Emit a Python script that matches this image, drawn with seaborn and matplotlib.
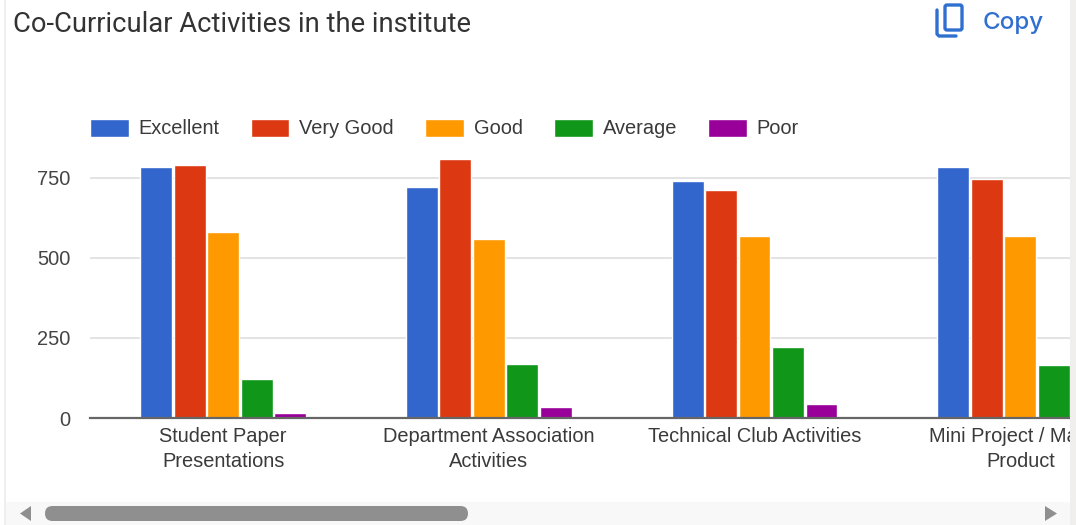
import pandas as pd
import seaborn as sns
import matplotlib.pyplot as plt
from matplotlib.patches import FancyBboxPatch, Polygon, Rectangle

activities = ['Student Paper\nPresentations', 'Department Association\nActivities',
              'Technical Club Activities', 'Mini Project / Major /\nProduct']
ratings = ['Excellent', 'Very Good', 'Good', 'Average', 'Poor']
colors = ['#3366cc', '#dc3912', '#ff9900', '#109618', '#990099']

excellent = [783, 721, 741, 783]
very_good = [790, 808, 711, 745]
good = [580, 558, 568, 568]
average = [122, 168, 222, 165]
poor = [15, 35, 45, 30]
yticks = [0, 250, 500, 750]

df = pd.DataFrame({'activity': activities, 'Excellent': excellent, 'Very Good': very_good,
                   'Good': good, 'Average': average, 'Poor': poor})
df = df.melt(id_vars='activity', var_name='rating', value_name='count')

W, H = 1076, 525
sns.set_theme(style='white')
plt.rcParams['font.family'] = ['Liberation Sans', 'DejaVu Sans']

fig = plt.figure(figsize=(W / 100, H / 100), dpi=100)
ax = fig.add_axes([90 / W, 1 - 418 / H, (1070 - 90) / W, (418 - 150) / H])

sns.barplot(data=df, x='activity', y='count', hue='rating', hue_order=ratings,
            palette=colors, saturation=1, width=0.63, gap=0.05, ax=ax)

# Chart limits taken from the pixel positions of the groups and gridlines
ax.set_xlim(-0.501, 3.187)
ax.set_ylim(0, 837)
ax.set_yticks(yticks)
ax.set_xlabel('')
ax.set_ylabel('')
ax.yaxis.grid(True, color='#dedede', lw=1.2)
ax.set_axisbelow(True)
sns.despine(ax=ax, left=True, top=True, right=True)
ax.spines['bottom'].set_color('#666666')
ax.spines['bottom'].set_linewidth(1.6)
ax.tick_params(axis='x', length=0, pad=6.5, labelsize=14.4, labelcolor='#3a3a3a')
ax.tick_params(axis='y', length=0, pad=14, labelsize=14.4, labelcolor='#444444')
for lab in ax.get_xticklabels():
    lab.set_linespacing(1.38)

handles, labels = ax.get_legend_handles_labels()
ax.legend(handles, labels, ncol=5, loc='lower left', bbox_to_anchor=(90 / W, 1 - 138.5 / H),
          bbox_transform=fig.transFigure, frameon=False, fontsize=14.4, labelcolor='#3a3a3a',
          handlelength=1.93, handleheight=1.0, handletextpad=0.5, columnspacing=1.56,
          borderpad=0, borderaxespad=0)

# Page furniture around the chart, in pixel coordinates
page = fig.add_axes([0, 0, 1, 1], zorder=5)
page.set_xlim(0, W)
page.set_ylim(H, 0)
page.axis('off')
page.patch.set_alpha(0)
page.add_patch(Rectangle((1070, 0), 6, H, color='#f1eeee', lw=0))
page.add_patch(Rectangle((4, 0), 2, H, color='#f1eeee', lw=0))
page.add_patch(Rectangle((6, 502), 1064, 23, color='#f8f8f8', lw=0))
page.add_patch(FancyBboxPatch((45, 506), 423, 15, boxstyle='round,pad=0,rounding_size=7.5',
                              color='#8f8f8f', lw=0))
page.add_patch(Polygon([[31, 506], [31, 521], [20, 513.5]], color='#8f8f8f', lw=0))
page.add_patch(Polygon([[1045, 506], [1045, 521], [1057, 513.5]], color='#8f8f8f', lw=0))
page.text(13, 24.5, 'Co-Curricular Activities in the institute', fontsize=19.7, family='Roboto',
          color='#333333', va='center', ha='left')

# Copy icon
blue = '#2f6fd0'
page.add_patch(FancyBboxPatch((945, 5), 17, 25, boxstyle='round,pad=0,rounding_size=2',
                              fill=False, ec=blue, lw=2.4))
page.plot([937, 937, 939, 956], [10, 34, 36, 36], color=blue, lw=2.4, solid_capstyle='round')
page.text(983, 23, 'Copy', fontsize=17.4, family='Inter', weight='medium', color=blue,
          va='center', ha='left')

fig.savefig('out.png', dpi=100)
